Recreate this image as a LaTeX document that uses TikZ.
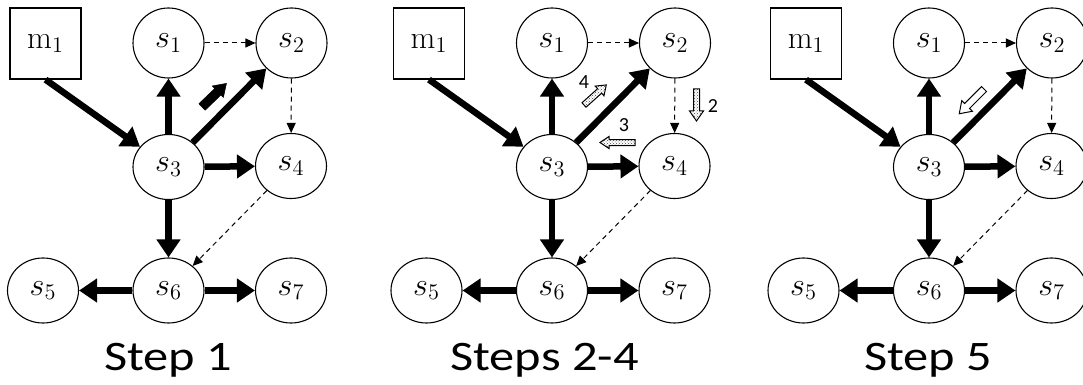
\documentclass[tikz,border=0pt]{standalone}
\usepackage{fontspec}
\newfontfamily\stepfont{Carlito}
\usetikzlibrary{shapes.geometric,arrows.meta,patterns}
\newcommand\nlab[1]{\scalebox{1.55}{$#1$}}
\newcommand\blockarr[7]{%
  \begin{scope}[shift={#1},rotate=#2]
    \draw[#7] (0,-#4) -- (#3-#6,-#4) -- (#3-#6,-#5) -- (#3,0) -- (#3-#6,#5) -- (#3-#6,#4) -- (0,#4) -- cycle;
  \end{scope}}
\begin{document}
\begin{tikzpicture}[x=1pt,y=-1pt,
  state/.style={draw, line width=1.1pt, ellipse, inner sep=0pt, minimum width=71pt, minimum height=65pt, font=\huge},
  topstate/.style={state, minimum height=70pt},
  mbox/.style={draw, line width=1.2pt, rectangle, inner sep=0pt, minimum width=71pt, minimum height=71pt, font=\huge},
  fat/.style={line width=6.5pt, -{Triangle[length=18pt,width=23pt]}},
  thin/.style={line width=1pt, dash pattern=on 5pt off 4pt, -{Triangle[length=10pt,width=9pt]}},
  steplabel/.style={font=\stepfont\fontsize{42}{50}\selectfont, anchor=base, inner sep=0pt},
  numlabel/.style={font=\stepfont\fontsize{20}{24}\selectfont, inner sep=0pt},
  hatched/.style={draw=black, line width=1pt, pattern=crosshatch dots, pattern color=black!70}
]
\useasboundingbox (0,0) rectangle (1083,385);
\foreach \p/\dx/\lab/\lx in {a/0/Step 1/168, b/383.5/Steps 2-4/161, c/760.5/Step 5/167.5}{
\begin{scope}[xshift=\dx pt]
  \node[mbox] (\p m) at (45.5,43.5) {\nlab{\mathrm{m}_1}};
  \node[topstate] (\p1) at (168.5,43) {\nlab{s_1}};
  \node[topstate] (\p2) at (291.5,43) {\nlab{s_2}};
  \node[state] (\p3) at (168.5,167) {\nlab{s_3}};
  \node[state] (\p4) at (291,166) {\nlab{s_4}};
  \node[state] (\p5) at (43,290.5) {\nlab{s_5}};
  \node[state] (\p6) at (168.5,290.5) {\nlab{s_6}};
  \node[state] (\p7) at (291,290.5) {\nlab{s_7}};
  \draw[fat] (\p m.south) -- (\p3);
  \draw[fat] (\p3) -- (\p1);
  \draw[fat] (\p3) -- (\p2);
  \draw[fat] (\p3) -- (\p4);
  \draw[fat] (\p3) -- (\p6);
  \draw[fat] (\p6) -- (\p5);
  \draw[fat] (\p6) -- (\p7);
  \draw[thin] (\p1) -- (\p2);
  \draw[thin] (\p2) -- (\p4);
  \draw[thin] (\p4) -- (\p6);
  \node[steplabel] (\p t) at (\lx,370) {\scalebox{1.2}[1]{\lab}};
\end{scope}}
% step 1 marker
\blockarr{(202,107)}{44}{34}{4.5}{8}{12}{draw=black, fill=black, line width=0.5pt}
% steps 2-4 markers
\blockarr{(584,105)}{42}{30}{3}{6.5}{9}{hatched}
\blockarr{(635,142.5)}{180}{35}{3}{6}{9}{hatched}
\blockarr{(696.5,89)}{-90}{32}{3}{7}{10}{hatched}
\node[numlabel] (n4) at (584,82) {4};
\node[numlabel] (n3) at (624,125) {3};
\node[numlabel] (n2) at (713,106) {2};
% step 5 marker
\blockarr{(984,89)}{-135}{35}{3.5}{7.5}{11}{draw=black, fill=white, line width=1pt}
\end{tikzpicture}
\end{document}
